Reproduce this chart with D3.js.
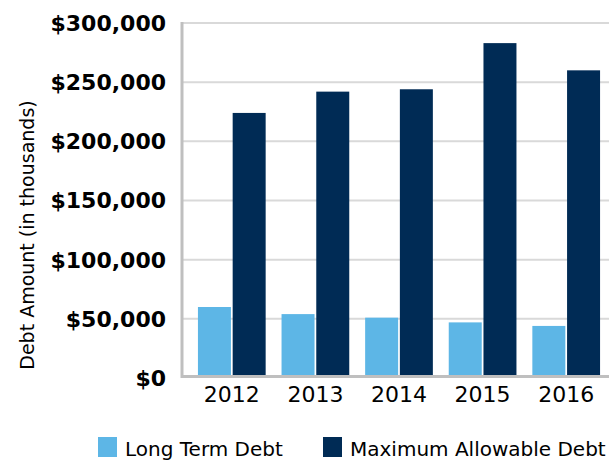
<!DOCTYPE html>
<html>
<head>
<meta charset="utf-8">
<script src="https://cdn.jsdelivr.net/npm/d3@7"></script>
<style>
  body { margin: 0; background: #fff; }
  svg text { font-family: "DejaVu Sans", sans-serif; fill: #000; }
</style>
</head>
<body>
<div id="chart"></div>
<script>
var years = ["2012", "2013", "2014", "2015", "2016"];
var seriesNames = ["Long Term Debt", "Maximum Allowable Debt"];
var longTermDebt = [60000, 54000, 51000, 47000, 44000];
var maxAllowableDebt = [224000, 242000, 244000, 283000, 260000];
var yTicks = [0, 50000, 100000, 150000, 200000, 250000, 300000];
var colors = ["#5DB6E6", "#002B55"];

var width = 616, height = 460;

var svg = d3.select("#chart").append("svg")
    .attr("width", width)
    .attr("height", height);

var y = d3.scaleLinear().domain([0, 300000]).range([378, 23]);
var x = d3.scaleBand().domain(years).range([190, 608]).paddingInner(0.19).paddingOuter(0.095);
var xs = d3.scaleBand().domain(seriesNames).range([0, x.bandwidth()]).paddingInner(0.05);

// gridlines
svg.append("g")
    .selectAll("line")
    .data(yTicks.slice(1))
    .enter().append("line")
    .attr("x1", 182).attr("x2", 609)
    .attr("y1", function(d) { return y(d); })
    .attr("y2", function(d) { return y(d); })
    .style("stroke", "#D9D9D9")
    .style("stroke-width", 2);

// y tick labels
var fmt = d3.format(",");
svg.append("g")
    .selectAll("text")
    .data(yTicks)
    .enter().append("text")
    .attr("x", 166)
    .attr("y", function(d) { return y(d); })
    .attr("dy", "0.36em")
    .attr("text-anchor", "end")
    .style("font-weight", "bold")
    .style("font-size", "22px")
    .text(function(d) { return "$" + fmt(d); });

// bars
var rows = years.map(function(yr, i) {
  return { year: yr, values: [longTermDebt[i], maxAllowableDebt[i]] };
});

var groups = svg.append("g").selectAll("g")
    .data(rows)
    .enter().append("g")
    .attr("transform", function(d) { return "translate(" + x(d.year) + ",0)"; });

groups.selectAll("rect")
    .data(function(d) { return d.values.map(function(v, j) { return { name: seriesNames[j], value: v, idx: j }; }); })
    .enter().append("rect")
    .attr("x", function(d) { return xs(d.name); })
    .attr("width", xs.bandwidth())
    .attr("y", function(d) { return y(d.value); })
    .attr("height", function(d) { return y(0) - y(d.value); })
    .style("fill", function(d) { return colors[d.idx]; });

// axis lines
svg.append("line")
    .attr("x1", 182).attr("x2", 182).attr("y1", 22).attr("y2", 378)
    .style("stroke", "#BFBFBF").style("stroke-width", 3);
svg.append("line")
    .attr("x1", 181).attr("x2", 609).attr("y1", 376.5).attr("y2", 376.5)
    .style("stroke", "#BFBFBF").style("stroke-width", 3);

// x labels
svg.append("g")
    .selectAll("text")
    .data(years)
    .enter().append("text")
    .attr("x", function(d) { return x(d) + x.bandwidth() / 2; })
    .attr("y", 402)
    .attr("text-anchor", "middle")
    .style("font-size", "22px")
    .text(function(d) { return d; });

// y axis title
svg.append("text")
    .attr("transform", "translate(34,235) rotate(-90)")
    .attr("text-anchor", "middle")
    .style("font-size", "19px")
    .text("Debt Amount (in thousands)");

// legend
var legendX = [98, 323];
var legend = svg.append("g").selectAll("g")
    .data(seriesNames)
    .enter().append("g")
    .attr("transform", function(d, i) { return "translate(" + legendX[i] + ",437)"; });
legend.append("rect")
    .attr("width", 19).attr("height", 20)
    .style("fill", function(d, i) { return colors[i]; });
legend.append("text")
    .attr("x", 27).attr("y", 19)
    .style("font-size", "20px")
    .text(function(d) { return d; });
</script>
</body>
</html>
